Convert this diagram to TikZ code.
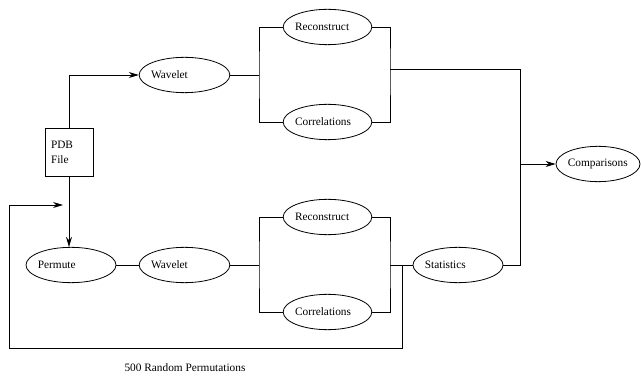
\documentclass[tikz,border=0pt]{standalone}
\usepackage{fontspec}
\setmainfont{Liberation Serif}
\usetikzlibrary{arrows.meta,positioning,shapes.geometric}
\tikzset{
  >={Stealth[length=7.5pt,width=4.5pt]},
  line/.style={line width=0.6pt,draw=black},
  oval/.style={ellipse,line,minimum width=#1,minimum height=26.5pt,inner sep=0pt},
  oval/.default=68pt,
  otxt/.style={label={[anchor=west,xshift=9pt,inner sep=0pt,font=\fontsize{8.5}{10}\selectfont]west:#1}},
  filebox/.style={draw,line,minimum size=36pt,inner sep=4.5pt,text width=27pt,align=left,font=\fontsize{8.5}{11.25}\selectfont},
  note/.style={font=\fontsize{8.5}{10}\selectfont},
}
\begin{document}
\begin{tikzpicture}[x=0.75pt,y=-0.75pt]
  \useasboundingbox (0,0) rectangle (641,377);
  % nodes
  \node[filebox] (pdb) at (69,152) {PDB\\File};
  \node[oval,otxt=Wavelet] (wav1) at (184.5,75) {};
  \node[oval=66.5pt,otxt=Reconstruct] (rec1) at (327.5,27) {};
  \node[oval=66.5pt,otxt=Correlations] (cor1) at (327.5,122) {};
  \node[oval=63pt,otxt=Comparisons] (cmp) at (598,164) {};
  \node[oval=67.5pt,otxt=Permute] (perm) at (71,265) {};
  \node[oval,otxt=Wavelet] (wav2) at (184.5,265) {};
  \node[oval=66.5pt,otxt=Reconstruct] (rec2) at (327.5,217) {};
  \node[oval=66.5pt,otxt=Correlations] (cor2) at (327.5,312) {};
  \node[oval=67.5pt,otxt=Statistics] (stat) at (458,265) {};
  \node[note] (perms) at (185,368) {500 Random Permutations};
  % junctions
  \coordinate (j1) at (259,75);
  \coordinate (k1) at (390,69);
  \coordinate (m) at (520,164);
  \coordinate (j2) at (259,265);
  \coordinate (k2) at (390,265);
  \coordinate (f) at (402,265);
  \coordinate (lp) at (9,348);
  \coordinate (fb) at (63,205);
  % top branch
  \draw[line,->] (pdb.north) |- (wav1.west);
  \draw[line] (wav1.east) -- (j1);
  \draw[line] (rec1.west) -| (j1) |- (cor1.west);
  \draw[line] (rec1.east) -| (k1) |- (cor1.east);
  \draw[line] (k1) -| (m) |- (stat.east);
  \draw[line,->] (m) -- (cmp.west);
  % bottom branch
  \draw[line,->] (pdb.south) -- (pdb.south |- perm.north);
  \draw[line] (perm.east) -- (wav2.west);
  \draw[line] (wav2.east) -- (j2);
  \draw[line] (rec2.west) -| (j2) |- (cor2.west);
  \draw[line] (rec2.east) -| (k2) |- (cor2.east);
  \draw[line] (k2) -- (stat.west);
  % loop back
  \draw[line,->] (f) |- (lp) |- (fb);
\end{tikzpicture}
\end{document}
